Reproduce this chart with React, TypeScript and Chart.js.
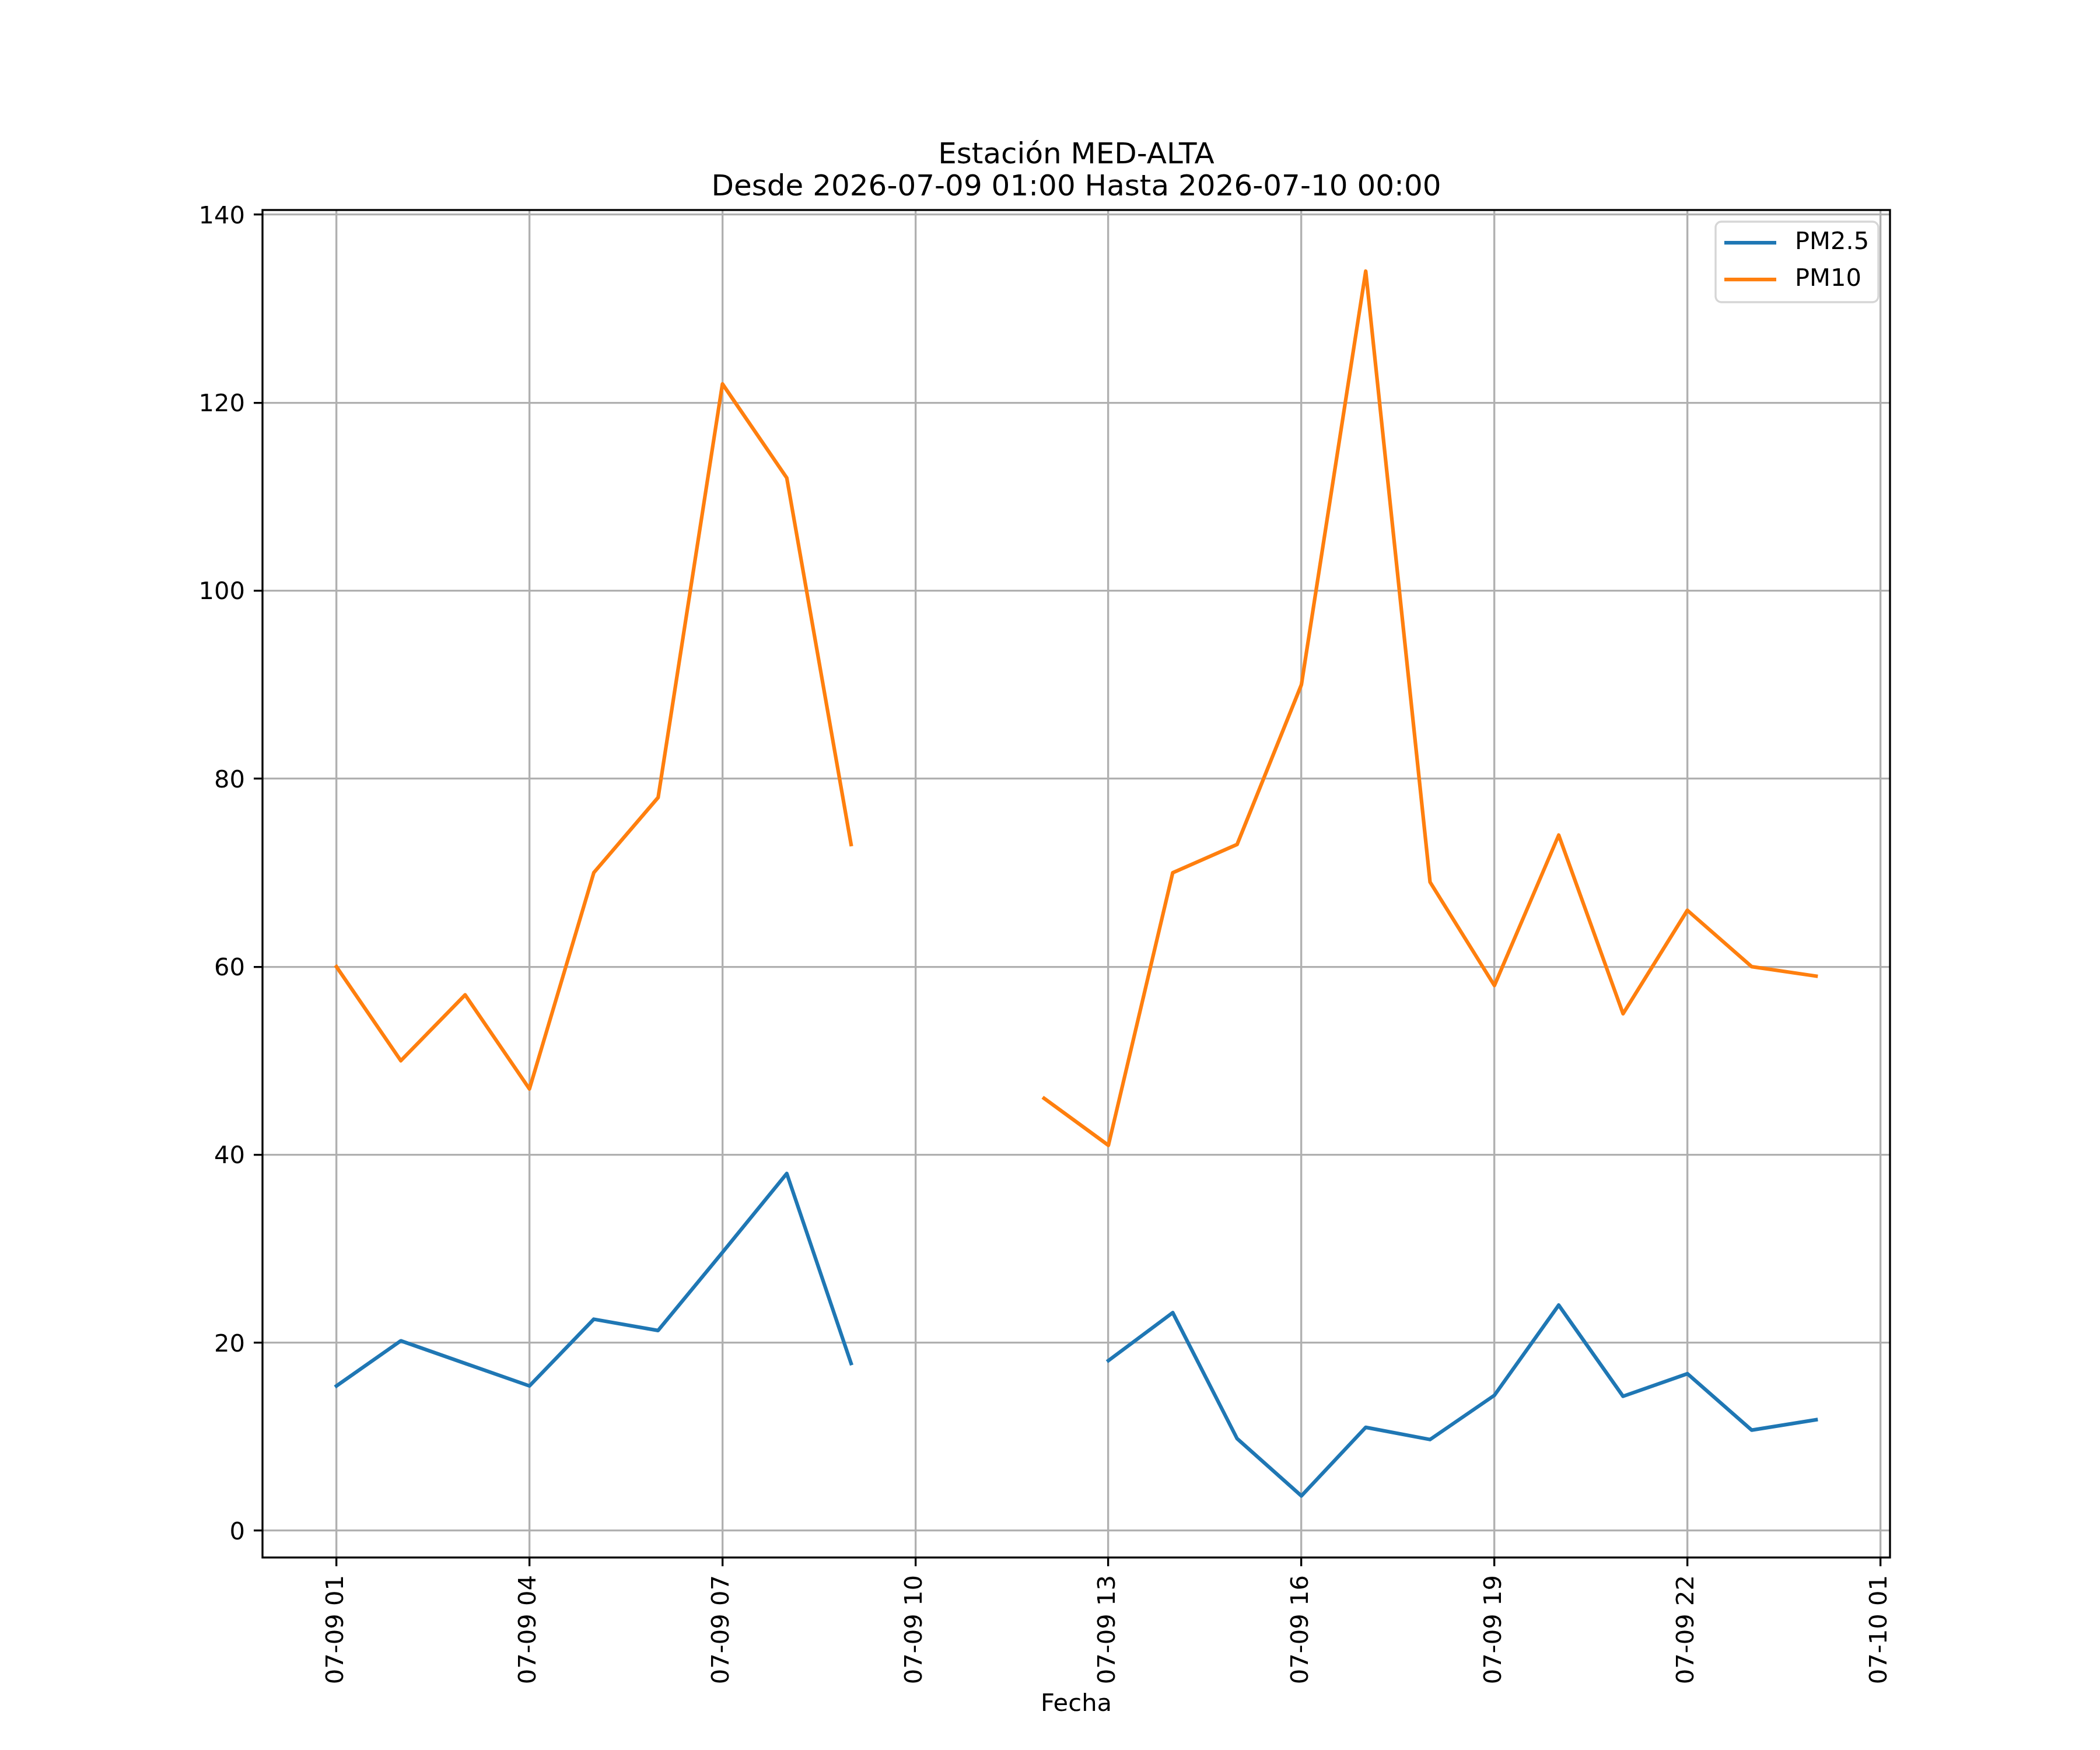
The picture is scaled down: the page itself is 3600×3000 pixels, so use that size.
import { useEffect, useRef } from 'react';
import { Chart, registerables, Plugin } from 'chart.js';

Chart.register(...registerables);

// hours after 2026-07-09 00:00
const hours = [1, 2, 3, 4, 5, 6, 7, 8, 9, 10, 11, 12, 13, 14, 15, 16, 17, 18, 19, 20, 21, 22, 23, 24];
const pm25 = [15.4, 20.2, 17.8, 15.4, 22.5, 21.3, 29.6, 38.0, 17.8, null, null, null, 18.1, 23.2, 9.8, 3.7, 11.0, 9.7, 14.4, 24.0, 14.3, 16.7, 10.7, 11.8];
const pm10 = [60, 50, 57, 47, 70, 78, 122, 112, 73, null, null, 46, 41, 70, 73, 90, 134, 69, 58, 74, 55, 66, 60, 59];

const xTicks = [1, 4, 7, 10, 13, 16, 19, 22, 25];
const xTickLabels = ['07-09 01', '07-09 04', '07-09 07', '07-09 10', '07-09 13', '07-09 16', '07-09 19', '07-09 22', '07-10 01'];
const yTicks = [0, 20, 40, 60, 80, 100, 120, 140];

const titleLines = ['Estación MED-ALTA', 'Desde 2026-07-09 01:00 Hasta 2026-07-10 00:00'];

const FONT = '"DejaVu Sans", sans-serif';
const FS = 41.67;
const LW = 3.33;

const frame: Plugin<'line'> = {
  id: 'mplFrame',
  afterDatasetsDraw(chart) {
    const { ctx, chartArea: a } = chart;
    ctx.save();
    // spines
    ctx.strokeStyle = '#000';
    ctx.lineWidth = LW;
    ctx.strokeRect(a.left, a.top, a.right - a.left, a.bottom - a.top);

    // legend, upper right
    const bx = a.right - 299;
    const by = a.top + 20;
    const bw = 279;
    const bh = 138;
    ctx.beginPath();
    ctx.roundRect(bx, by, bw, bh, 10);
    ctx.fillStyle = 'rgba(255,255,255,0.8)';
    ctx.fill();
    ctx.strokeStyle = '#d6d6d6';
    ctx.lineWidth = LW;
    ctx.stroke();
    ctx.font = `${FS}px ${FONT}`;
    ctx.textBaseline = 'middle';
    ctx.textAlign = 'left';
    chart.data.datasets.forEach((ds, i) => {
      const y = by + 36 + i * 63;
      ctx.strokeStyle = ds.borderColor as string;
      ctx.lineWidth = 6.25;
      ctx.beginPath();
      ctx.moveTo(bx + 15, y);
      ctx.lineTo(bx + 104, y);
      ctx.stroke();
      ctx.fillStyle = '#000';
      ctx.fillText(ds.label || '', bx + 136, y);
    });
    ctx.restore();
  },
  afterDraw(chart) {
    const { ctx, chartArea: a } = chart;
    ctx.save();
    ctx.font = `50px ${FONT}`;
    ctx.fillStyle = '#000';
    ctx.textAlign = 'center';
    ctx.textBaseline = 'alphabetic';
    const cx = (a.left + a.right) / 2;
    ctx.fillText(titleLines[0], cx, a.top - 80);
    ctx.fillText(titleLines[1], cx, a.top - 25);
    ctx.restore();
  },
};

export default function App() {
  const chartRef = useRef<HTMLCanvasElement>(null);
  const chartInstance = useRef<Chart | null>(null);

  useEffect(() => {
    document.body.style.margin = '0';
    if (!chartRef.current) return;
    if (chartInstance.current) {
      chartInstance.current.destroy();
    }
    const ctx = chartRef.current.getContext('2d');
    if (!ctx) return;

    const tickFont = { family: FONT, size: FS };

    chartInstance.current = new Chart(ctx, {
      type: 'line',
      data: {
        datasets: [
          {
            label: 'PM2.5',
            data: hours.map((h, i) => ({ x: h, y: pm25[i] as number })),
            borderColor: '#1f77b4',
            borderWidth: 6.25,
            pointRadius: 0,
            borderCapStyle: 'square',
            borderJoinStyle: 'round',
          },
          {
            label: 'PM10',
            data: hours.map((h, i) => ({ x: h, y: pm10[i] as number })),
            borderColor: '#ff7f0e',
            borderWidth: 6.25,
            pointRadius: 0,
            borderCapStyle: 'square',
            borderJoinStyle: 'round',
          },
        ],
      },
      plugins: [frame],
      options: {
        responsive: false,
        animation: false,
        devicePixelRatio: 1,
        layout: { padding: { top: 360, right: 360, left: 0, bottom: 0 } },
        scales: {
          x: {
            type: 'linear',
            min: -0.15,
            max: 25.15,
            afterBuildTicks: (scale) => {
              scale.ticks = xTicks.map(v => ({ value: v }));
            },
            afterFit: (scale) => {
              scale.height = 330;
            },
            ticks: {
              autoSkip: false,
              minRotation: 90,
              maxRotation: 90,
              padding: 15,
              color: '#000',
              font: tickFont,
              callback: (_value, index) => xTickLabels[index],
            },
            grid: {
              color: '#b0b0b0',
              lineWidth: LW,
              tickLength: 15,
              tickColor: '#000',
              tickWidth: LW,
            },
            border: { display: false },
            title: {
              display: true,
              text: 'Fecha',
              color: '#000',
              font: tickFont,
              padding: { top: 0, bottom: 53 },
            },
          },
          y: {
            type: 'linear',
            min: -2.85,
            max: 140.5,
            afterBuildTicks: (scale) => {
              scale.ticks = yTicks.map(v => ({ value: v }));
            },
            afterFit: (scale) => {
              scale.width = 450;
            },
            ticks: {
              padding: 15,
              labelOffset: 4,
              color: '#000',
              font: tickFont,
            },
            grid: {
              color: '#b0b0b0',
              lineWidth: LW,
              tickLength: 15,
              tickColor: '#000',
              tickWidth: LW,
            },
            border: { display: false },
          },
        },
        plugins: {
          legend: { display: false },
          title: { display: false },
          tooltip: { enabled: false },
        },
      },
    });

    return () => {
      if (chartInstance.current) {
        chartInstance.current.destroy();
        chartInstance.current = null;
      }
    };
  }, []);

  return (
    <div style={{ width: 3600, height: 3000 }}>
      <canvas ref={chartRef} width={3600} height={3000} style={{ display: 'block' }}></canvas>
    </div>
  );
}
